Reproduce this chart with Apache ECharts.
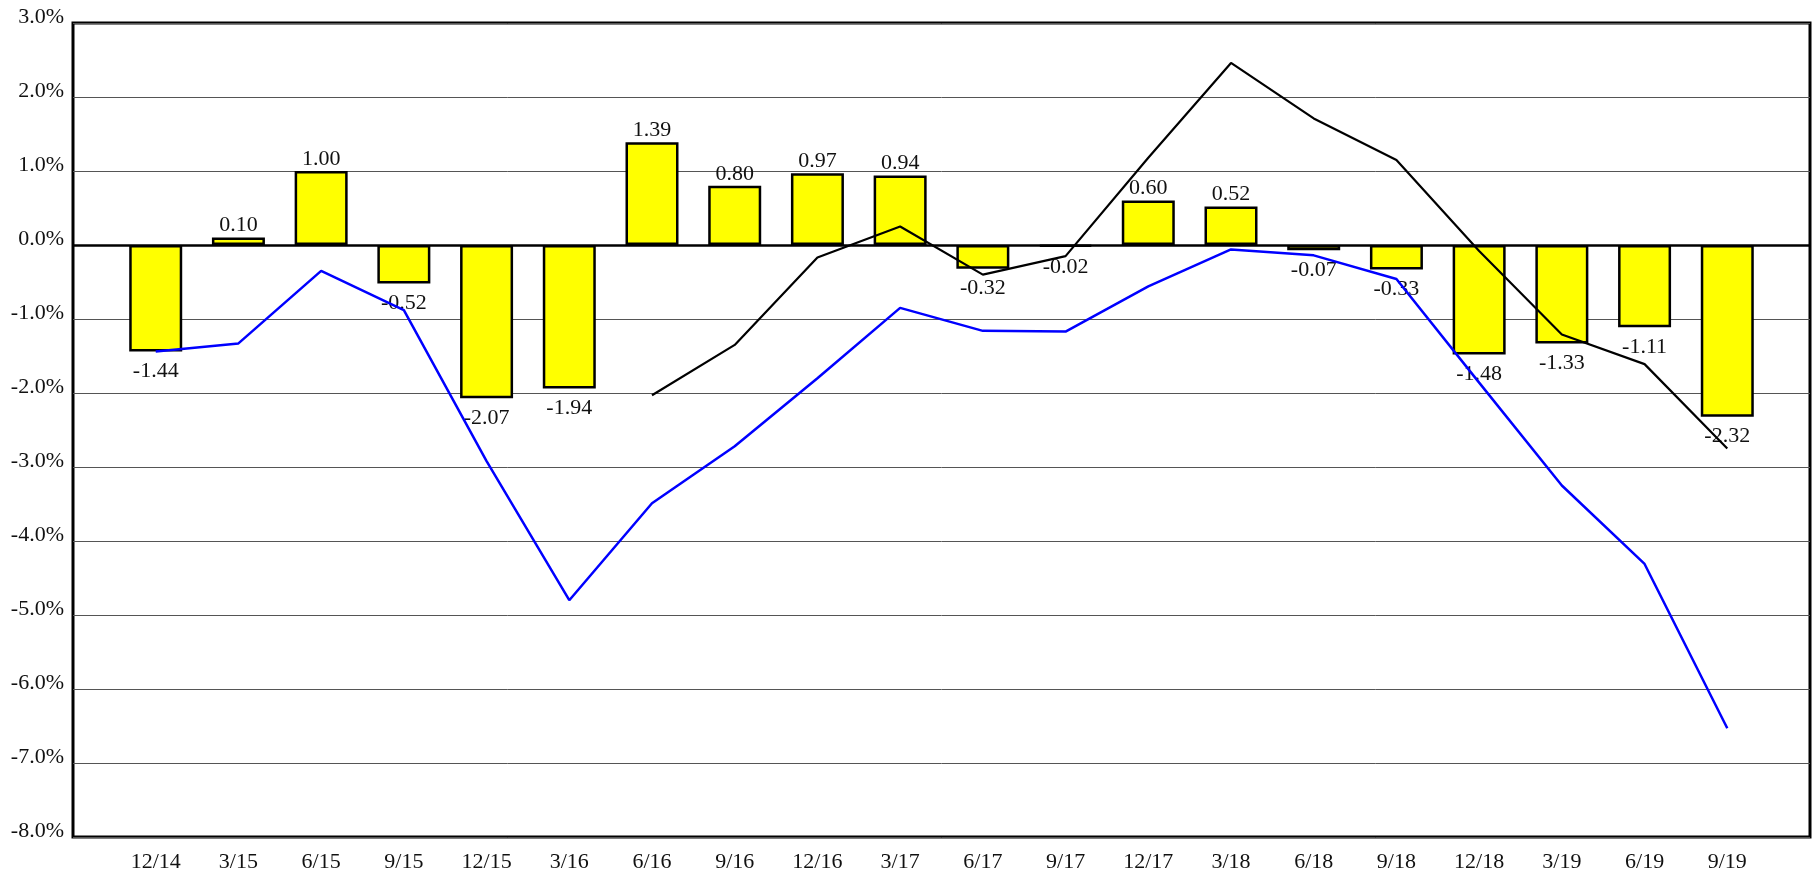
<!DOCTYPE html>
<html>
<head>
<meta charset="utf-8">
<script src="https://cdn.jsdelivr.net/npm/echarts@6/dist/echarts.min.js"></script>
<style>
  html, body { margin: 0; padding: 0; background: #fff; }
  #chart { width: 1814px; height: 873px; }
</style>
</head>
<body>
<div id="chart"></div>
<script>
// ── Data ────────────────────────────────────────────────────────────────
const categories = ['12/14', '3/15', '6/15', '9/15', '12/15', '3/16', '6/16', '9/16', '12/16', '3/17',
                    '6/17', '9/17', '12/17', '3/18', '6/18', '9/18', '12/18', '3/19', '6/19', '9/19'];

const barValues = [-1.44, 0.10, 1.00, -0.52, -2.07, -1.94, 1.39, 0.80, 0.97, 0.94,
                   -0.32, -0.02, 0.60, 0.52, -0.07, -0.33, -1.48, -1.33, -1.11, -2.32];

const blueValues = [-1.44, -1.33, -0.35, -0.88, -2.92, -4.80, -3.49, -2.72, -1.80, -0.85,
                    -1.16, -1.17, -0.56, -0.06, -0.14, -0.46, -1.86, -3.25, -4.31, -6.53];

const blackValues = [null, null, null, null, null, null, -2.03, -1.35, -0.17, 0.25,
                     -0.40, -0.15, 1.18, 2.46, 1.71, 1.15, -0.08, -1.21, -1.61, -2.75];

const yMin = -8, yMax = 3, yStep = 1;

// ── Style ───────────────────────────────────────────────────────────────
const font = '"Liberation Serif", "DejaVu Serif", serif';
const fontSize = 22;
const textColor = '#111';

const chart = echarts.init(document.getElementById('chart'), null, { renderer: 'canvas' });

// positive labels sit on top, negative ones hang below the bar
const barData = barValues.map((v, i) => ({
  value: [i, v],
  label: { position: v >= 0 ? 'top' : 'bottom', distance: v >= 0 ? 1 : 9 }
}));

chart.setOption({
  animation: false,
  backgroundColor: '#fff',
  grid: {
    left: 73, right: 4, top: 23, bottom: 35,
    show: true, borderColor: '#000', borderWidth: 3, backgroundColor: 'transparent'
  },
  xAxis: {
    type: 'value',
    min: -1, max: categories.length, interval: 1,
    axisLine: { show: false },
    axisTick: { show: false },
    splitLine: { show: false },
    axisLabel: {
      margin: 14,
      fontFamily: font, fontSize: fontSize, color: textColor,
      formatter: v => categories[v] || ''
    }
  },
  yAxis: {
    type: 'value',
    min: yMin, max: yMax, interval: yStep,
    axisLine: { show: false },
    axisTick: { show: false },
    splitLine: { lineStyle: { color: '#555', width: 1 } },
    axisLabel: {
      margin: 9,
      fontFamily: font, fontSize: fontSize, color: textColor,
      verticalAlign: 'bottom', lineHeight: 11,
      formatter: v => v.toFixed(1) + '%'
    }
  },
  series: [
    {
      type: 'bar',
      data: barData,
      barWidth: 53,
      itemStyle: { color: '#ffff00', borderColor: '#000', borderWidth: 2.5 },
      label: {
        show: true,
        fontFamily: font, fontSize: fontSize, color: textColor,
        formatter: p => p.value[1].toFixed(2)
      },
      markLine: {
        silent: true,
        symbol: 'none',
        label: { show: false },
        lineStyle: { color: '#000', width: 2.5, type: 'solid' },
        data: [{ yAxis: 0 }]
      },
      z: 2
    },
    {
      type: 'line',
      data: blueValues.map((v, i) => [i, v]),
      showSymbol: false,
      lineStyle: { color: '#0000ff', width: 2.5 },
      z: 4
    },
    {
      type: 'line',
      data: blackValues.map((v, i) => [i, v]),
      showSymbol: false,
      connectNulls: false,
      lineStyle: { color: '#000', width: 2.2 },
      z: 4
    }
  ]
});
</script>
</body>
</html>
